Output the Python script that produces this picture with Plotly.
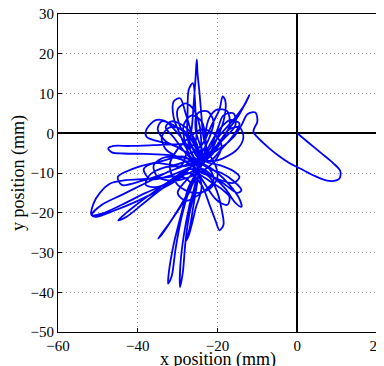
import plotly.graph_objects as go

# Trajectory (mm), in drawing order
x_mm = [
    0, 3, 6, 9, 10.8, 10.5, 8, 4.5, 1, -2, -4.5, -7, -9.5, -11, -10, -10.5, -12.5, -14, -16, -19,
    -22, -23.5, -24, -24.5, -25, -25.2, -25.5, -26, -26.5, -27.5, -29,
    -33, -38, -44, -49, -51.5, -50.5, -46, -40, -34, -29, -26,
    -25.5, -27, -28.5, -29.3, -29.4, -28.7, -28, -27, -25.5, -24,
    -22, -19, -15.5, -13, -12, -12.8, -15, -18, -21, -24,
    -27, -31, -36, -42, -46, -47.4, -46.5, -43.6, -38, -32, -27, -23,
    -20, -17, -14.5, -14, -15.5, -18, -21, -24,
    -27, -29, -31, -32.2, -32.4, -31.5, -30.5, -29, -27, -25,
    -27, -30, -33, -35.5, -37.8, -37.8, -35, -31, -27,
    -24, -21.5, -19.5, -18.7, -18, -18.5, -20, -22.5,
    -27, -32, -38, -43, -47, -49.5, -51.1, -51.6, -49, -44, -38, -32, -27,
    -24, -22, -20.5, -19.5, -18.5, -19, -20, -22,
    -27, -32, -37, -41, -44.9, -42.8, -39, -34, -29,
    -26.5, -29, -32, -34.9, -34, -31, -28, -25.5,
    -25, -26.5, -28, -29.4, -31, -31, -29.5, -27.5,
    -25.5, -25.5, -26.2, -27.2, -27.5, -27.5, -26,
    -22, -19, -16, -14.5, -16.9, -19.5, -22, -24,
    -22, -19, -16, -14, -15, -18, -21, -24,
    -28, -33, -36, -35, -31, -27, -23, -20, -19, -21, -24, -27, -30, -32, -30, -26, -22, -20, -21, -24,
    -25, -26, -27, -27.8, -27, -25.5, -24,
    -28, -34, -40, -45, -44, -39, -33, -28, -22,
    -24, -27, -31, -34, -35, -33, -29, -25,
    -23, -23, -22, -20, -17.5, -17, -19, -22,
    -26, -30, -33, -34, -32, -29, -26, -24,
    -24, -24.5, -26, -28, -30, -29.5, -27, -25,
    -21, -18, -15, -13.5, -14.5, -17, -20, -23,
    -25, -28, -30, -28, -24, -21, -22,
    -27, -31, -36, -38.5, -37, -33, -29, -26,
    -24, -22, -21, -22.5, -25, -25.5, -24,
    -23, -19.5, -16, -14.5, -16, -20, -23,
    -25, -28, -31, -33, -31.5, -28, -25.5, -24,
    -24, -23, -24, -26.5, -28.5, -28, -26,
    -26, -22, -19, -17, -17.5, -20, -23, -25,
    -22, -18, -15.5, -16, -18.5, -20, -22,
    -27, -33, -37, -38, -35, -30, -26, -23,
]
y_mm = [
    0, -2.5, -5, -7.5, -9.5, -11.5, -12, -10.8, -9, -7.5, -5.8, -3.8, -1.5, 0.5, 3, 5.2, 4.8, 2, -1, -3.5,
    -5, -1, 4, 10, 15, 18.6, 14, 7, 1, -4, -8,
    -10, -12.5, -15.5, -18, -20.5, -21, -19.5, -17, -14, -11, -8,
    -12, -18, -26, -33, -38.7, -35, -27, -20, -14, -8,
    -4, 0, 4, 7.5, 9.6, 8, 4, 0, -4, -6,
    -3, -2.8, -3, -3.2, -3.2, -3.8, -4.8, -5.1, -5.2, -5.5, -6.5, -8,
    -10, -13, -16.5, -18.5, -17.5, -14, -11, -9,
    -13, -20, -28, -35, -37.8, -36, -29, -21, -14, -9,
    -4, 0, 3, 3.3, 1, -0.9, -2, -3, -5,
    -3, 2, 6, 9.3, 8, 3, -1, -6,
    -10, -11, -11.5, -11.8, -12.7, -15, -17.7, -20.6, -20.2, -18, -15, -12.5, -10,
    -13, -18, -22, -24.4, -23, -19, -15, -11,
    -9, -12, -15.5, -18.5, -21.9, -21, -18, -14, -11,
    -13, -18, -22.5, -26.5, -25.5, -21, -16, -11,
    -5, 0, 5, 8.8, 8, 4, 0, -4,
    -2, 5, 12.6, 11, 5, -1, -6,
    -7, -4, -0.5, 2.5, 3.3, 1, -3, -7,
    -9, -10, -12, -14.3, -15, -13, -11, -10,
    -7, -6, -8, -11, -12, -11, -9, -6, -3, 0, 1, -1, -4, -8, -13, -15, -14, -11, -7, -4,
    -12, -18, -24, -27, -25, -19, -13,
    -6, -7, -8.5, -11, -13, -12, -10, -8, -6,
    -6, -1, 2, 3, 1, -2, -4, -7,
    -5, 0, 4, 6, 5.5, 2, -2, -6,
    -8, -6, -4, -1, 1.5, 1, -2, -6,
    -4, 2, 6, 7.5, 6, 2, -2, -6,
    -7, -6, -4, -1, 1.5, 1, -3, -7,
    -9, -12, -15, -17, -15, -12, -9,
    -7, -8, -7.5, -9, -11.5, -11, -9.5, -8,
    -5, -1, 3, 5.5, 5, 1, -4,
    -7, -8, -9.5, -11, -12.5, -11.5, -10,
    -8, -5, -1, 1.5, 3, 1.5, -2, -7,
    -8, -3, 3, 4.5, 2, -3, -8,
    -9, -12, -14, -16, -18, -17, -13, -9,
    -5, -1, 2, 5, 4.5, 1, -4,
    -8, -8.5, -10.5, -13, -13.5, -11, -8, -6,
]
assert len(x_mm) == len(y_mm)

x_ticks = [-60, -40, -20, 0, 20]
y_ticks = [-50, -40, -30, -20, -10, 0, 10, 20, 30]
x_title = "x position (mm)"
y_title = "y position (mm)"

fig = go.Figure(go.Scatter(
    x=x_mm, y=y_mm, mode="lines",
    line=dict(color="#0000ff", width=1.8, shape="spline", smoothing=0.9),
    showlegend=False,
))

font = dict(family="Liberation Serif, Times New Roman, serif", size=15, color="black")
axis_common = dict(
    showline=True, linecolor="black", linewidth=1, mirror=True,
    showgrid=True, gridcolor="#999999", griddash="1px,3px", gridwidth=1,
    zeroline=True, zerolinecolor="black", zerolinewidth=2,
    ticks="inside", ticklen=4, tickcolor="black",
    tickfont=font, automargin=False, ticklabeloverflow="allow",
)
# the page body adds an 8px offset, so the figure is sized to the remaining window
fig.update_layout(
    width=376, height=358,
    margin=dict(l=50, r=7, t=6, b=34),
    paper_bgcolor="white", plot_bgcolor="white",
    font=font,
    xaxis=dict(range=[-60, 20], tickvals=x_ticks, **axis_common),
    yaxis=dict(range=[-50, 30], tickvals=y_ticks, **axis_common,
               title=dict(text=y_title, font=dict(size=18), standoff=2)),
    annotations=[dict(
        text=x_title, xref="paper", yref="paper", x=0.5, y=0,
        xanchor="center", yanchor="middle", yshift=-27, showarrow=False,
        font=dict(family=font["family"], size=18, color="black"),
    )],
)
fig.write_html("out.html")
